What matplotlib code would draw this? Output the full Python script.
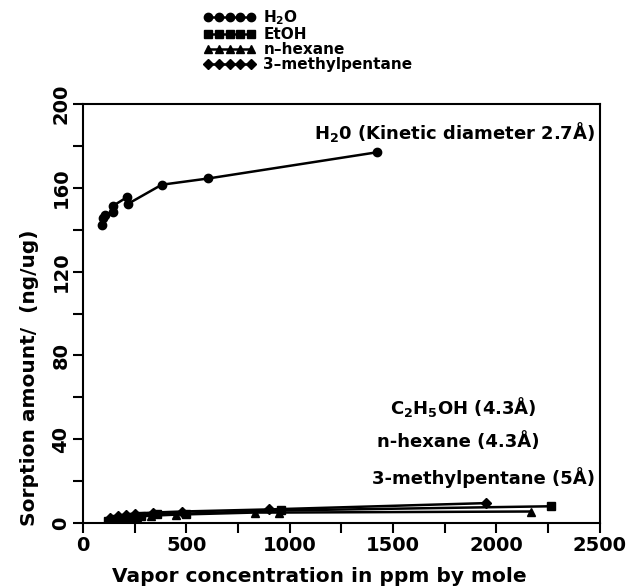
import numpy as np
import matplotlib
matplotlib.use("Agg")
import matplotlib.pyplot as plt
from matplotlib.ticker import MultipleLocator

plt.rcParams["font.family"] = ["DejaVu Sans"]
plt.rcParams["font.weight"] = "bold"

# ----- data -----
h2o_x = [90, 95, 107, 147, 147, 212, 220, 381, 607, 1423]
h2o_y = [142.5, 145.5, 147, 148.5, 151.5, 155.5, 152.5, 161.5, 164.5, 177]

etoh_x = [120, 150, 180, 230, 280, 360, 500, 960, 2263]
etoh_y = [1.0, 2.0, 2.5, 3.0, 3.5, 4.5, 4.5, 6.0, 8.0]

hexane_x = [110, 140, 170, 220, 260, 330, 450, 830, 950, 2166]
hexane_y = [0.5, 1.5, 2.0, 2.5, 3.0, 3.5, 4.0, 5.0, 5.0, 5.5]

mp_x = [130, 170, 210, 250, 340, 480, 900, 1948]
mp_y = [2.5, 3.5, 4.0, 4.5, 5.0, 5.5, 6.5, 9.5]

series = [
    ("H$_2$O", h2o_x, h2o_y, "o"),
    ("EtOH", etoh_x, etoh_y, "s"),
    ("n\u2013hexane", hexane_x, hexane_y, "^"),
    ("3\u2013methylpentane", mp_x, mp_y, "D"),
]

annotations = [
    ("H$_2$0 (Kinetic diameter 2.7\u00c5)", 2476, 186.5, "right"),
    ("C$_2$H$_5$OH (4.3\u00c5)", 1841, 55.5, "center"),
    ("n-hexane (4.3\u00c5)", 1817, 38.7, "center"),
    ("3-methylpentane (5\u00c5)", 1940, 21.5, "center"),
]

fig = plt.figure(figsize=(6.3, 5.88), dpi=100)
ax = fig.add_axes([0.1317, 0.1105, 0.8203, 0.7125])

handles = []
for label, x, y, m in series:
    ms = 6 if m != "D" else 5
    (h,) = ax.plot(x, y, color="black", lw=1.8, marker=m, ms=ms, label=label)
    handles.append(h)

for text, x, y, ha in annotations:
    ax.text(x, y, text, ha=ha, va="center", fontsize=13, fontweight="bold")

ax.set_xlim(0, 2500)
ax.set_ylim(0, 200)
ax.xaxis.set_major_locator(MultipleLocator(500))
ax.xaxis.set_minor_locator(MultipleLocator(250))
ax.yaxis.set_major_locator(MultipleLocator(40))
ax.yaxis.set_minor_locator(MultipleLocator(20))
ax.tick_params(which="both", direction="out", width=1.5, labelsize=14, pad=2)
ax.tick_params(which="major", length=7)
ax.tick_params(which="minor", length=7)
for lbl in ax.get_yticklabels():
    lbl.set_rotation(90)
    lbl.set_va("center")
for s in ax.spines.values():
    s.set_linewidth(1.5)

ax.set_xlabel("Vapor concentration in ppm by mole", fontsize=14.5, fontweight="bold")
ax.xaxis.set_label_coords(0.458, -0.105)
ax.set_ylabel("Sorption amount/  (ng/ug)", fontsize=14.5, fontweight="bold")
ax.yaxis.set_label_coords(-0.085, 0.346)

leg = fig.legend(handles=handles, loc="upper left", bbox_to_anchor=(0.31, 1.0),
                 frameon=False, numpoints=5, handlelength=3.4, handletextpad=0.5,
                 labelspacing=0.0, prop={"size": 11, "weight": "bold"},
                 borderaxespad=0.15)

plt.savefig("out.png", dpi=100)
plt.close()
